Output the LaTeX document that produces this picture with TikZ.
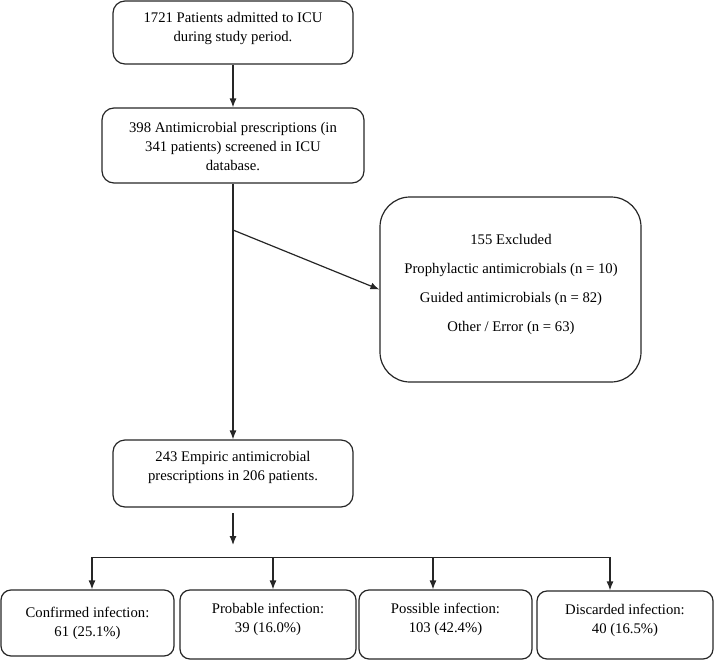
\documentclass[tikz,border=0pt]{standalone}
\usepackage{fontspec}
\setmainfont{Liberation Serif}
\usetikzlibrary{arrows.meta,calc}
\newcommand\diagfont{\fontsize{14.7pt}{19pt}\selectfont}
\newcommand\exfont{\fontsize{14.7pt}{29pt}\selectfont}
\begin{document}
\begin{tikzpicture}[x=1pt,y=-1pt,
  box/.style={draw=black!85, line width=1.2pt, rounded corners=12pt, inner sep=0pt},
  txt/.style={inner sep=0pt, font=\diagfont, align=center},
  conn/.style={draw=black!85, line width=1.2pt},
  arr/.style={conn, -{Latex[length=9pt,width=7pt]}}
]
\useasboundingbox (0,0) rectangle (714,661);
% top chain
\node[box, minimum width=240pt, minimum height=63pt] (b1) at (233,32.5) {};
\node[txt] (t1) at (233,28) {1721 Patients admitted to ICU\\during study period.};
\node[box, minimum width=262pt, minimum height=75pt] (b2) at (233,145.5) {};
\node[txt] (t2) at (233,147) {398 Antimicrobial prescriptions (in\\341 patients) screened in ICU\\database.};
\node[box, minimum width=261pt, minimum height=185pt, rounded corners=30pt] (ex) at (510.5,289.5) {};
\node[txt, font=\exfont] (tex) at (511,284) {155 Excluded\\Prophylactic antimicrobials (n = 10)\\Guided antimicrobials (n = 82)\\Other / Error (n = 63)};
\node[box, minimum width=240pt, minimum height=67pt] (b3) at (233,473.5) {};
\node[txt] (t3) at (233,467.5) {243 Empiric antimicrobial\\prescriptions in 206 patients.};
% bottom boxes
\node[box, rounded corners=10pt, minimum width=173pt, minimum height=66pt] (ba) at (87.5,623) {};
\node[txt] (ta) at (87.5,623) {Confirmed infection:\\61 (25.1\%)};
\node[box, rounded corners=10pt, minimum width=176pt, minimum height=69pt] (bb) at (268,624.5) {};
\node[txt] (tb) at (268,619) {Probable infection:\\39 (16.0\%)};
\node[box, rounded corners=10pt, minimum width=173pt, minimum height=69pt] (bc) at (445.5,624.5) {};
\node[txt] (tc) at (445.5,619) {Possible infection:\\103 (42.4\%)};
\node[box, rounded corners=10pt, minimum width=176pt, minimum height=68pt] (bd) at (625,625) {};
\node[txt] (td) at (625,620) {Discarded infection:\\40 (16.5\%)};
% connectors
\draw[arr] (b1.south) -- (b2.north);
\draw[arr] (b2.south) -- (b3.north);
\coordinate (split) at (233,230);
\draw[arr] (split) -- (ex.west);
\coordinate (a1) at (233,513);
\coordinate (a2) at (233,545);
\draw[arr] (a1) -- (a2);
\coordinate (h1) at (92,557);
\coordinate (h2) at (273,557);
\coordinate (h3) at (433,557);
\coordinate (h4) at (610,557);
\draw[conn, line width=1pt] (h1) -- (h4);
\draw[arr] (h1) -- (h1 |- ba.north);
\draw[arr] (h2) -- (h2 |- bb.north);
\draw[arr] (h3) -- (h3 |- bc.north);
\draw[arr] (h4) -- (h4 |- bd.north);
\end{tikzpicture}
\end{document}
